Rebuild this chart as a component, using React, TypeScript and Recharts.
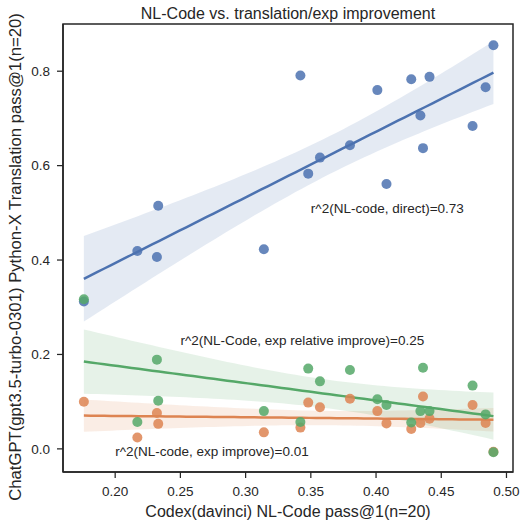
import React from 'react';
import { ComposedChart, XAxis, YAxis, Scatter, Line, Area, ReferenceArea } from 'recharts';

// Codex(davinci) NL-Code pass@1 per language
const codexNLCode = [0.176, 0.217, 0.232, 0.233, 0.314, 0.342, 0.348, 0.357, 0.380, 0.401, 0.408, 0.427, 0.434, 0.436, 0.441, 0.474, 0.484, 0.490];
// ChatGPT direct translation pass@1
const directPass = [0.312, 0.419, 0.4065, 0.515, 0.423, 0.791, 0.583, 0.617, 0.643, 0.760, 0.561, 0.783, 0.706, 0.637, 0.788, 0.684, 0.766, 0.855];
// explanation improvement (absolute)
const expImprove = [0.100, 0.024, 0.076, 0.053, 0.035, 0.045, 0.098, 0.088, 0.106, 0.080, 0.054, 0.042, 0.055, 0.111, 0.064, 0.093, 0.055, -0.006];
// explanation improvement (relative)
const expRelImprove = [0.317, 0.057, 0.189, 0.102, 0.080, 0.057, 0.170, 0.143, 0.167, 0.105, 0.093, 0.056, 0.080, 0.172, 0.080, 0.134, 0.073, -0.007];

const xTicks = [0.2, 0.25, 0.3, 0.35, 0.4, 0.45, 0.5];
const yTicks = [0.0, 0.2, 0.4, 0.6, 0.8];
const xDomain = [0.16, 0.505];
const yDomain = [-0.049, 0.9];

const title = 'NL-Code vs. translation/exp improvement';
const xLabel = 'Codex(davinci) NL-Code pass@1(n=20)';
const yLabel = 'ChatGPT(gpt3.5-turbo-0301) Python-X Translation pass@1(n=20)';

const annotations = [
  { x: 0.35, y: 0.5, text: 'r^2(NL-code, direct)=0.73' },
  { x: 0.25, y: 0.22, text: 'r^2(NL-Code, exp relative improve)=0.25' },
  { x: 0.2, y: -0.015, text: 'r^2(NL-code, exp improve)=0.01' },
];

const BLUE = '#4C72B0';
const ORANGE = '#DD8452';
const GREEN = '#55A868';
const INK = '#262626';
const FONT = '"Liberation Sans", Arial, sans-serif';

function fit(xs: number[], ys: number[]) {
  const n = xs.length;
  const mx = xs.reduce((a, b) => a + b, 0) / n;
  const my = ys.reduce((a, b) => a + b, 0) / n;
  let sxx = 0, sxy = 0;
  for (let i = 0; i < n; i++) {
    sxx += (xs[i] - mx) ** 2;
    sxy += (xs[i] - mx) * (ys[i] - my);
  }
  const b = sxy / sxx;
  const a = my - b * mx;
  let sse = 0;
  for (let i = 0; i < n; i++) sse += (ys[i] - (a + b * xs[i])) ** 2;
  const s = Math.sqrt(sse / (n - 2));
  const t = 2.0;
  return (x: number) => {
    const yh = a + b * x;
    const h = t * s * Math.sqrt(1 / n + (x - mx) ** 2 / sxx);
    return { yh, lo: yh - h, hi: yh + h };
  };
}

const fB = fit(codexNLCode, directPass);
const fO = fit(codexNLCode, expImprove);
const fG = fit(codexNLCode, expRelImprove);

const xMin = Math.min(...codexNLCode);
const xMax = Math.max(...codexNLCode);
const N = 60;
const fitData = Array.from({ length: N + 1 }, (_, i) => {
  const x = xMin + ((xMax - xMin) * i) / N;
  const b = fB(x), o = fO(x), g = fG(x);
  return {
    x,
    bFit: b.yh, bBand: [b.lo, b.hi],
    oFit: o.yh, oBand: [o.lo, o.hi],
    gFit: g.yh, gBand: [g.lo, g.hi],
  };
});

const pts = (ys: number[]) => codexNLCode.map((x, i) => ({ x, y: ys[i] }));
const bluePts = pts(directPass);
const orangePts = pts(expImprove);
const greenPts = pts(expRelImprove);

const dot = (color: string) => (p: any) => (
  <circle cx={p.cx} cy={p.cy} r={5} fill={color} fillOpacity={0.85} />
);

const textShape = (p: any) => (
  <text x={p.cx} y={p.cy} fontSize={13.5} fill={INK} fontFamily={FONT} textAnchor="start">
    {p.payload.text}
  </text>
);

const XLabel = (props: any) => {
  const vb = props.viewBox || { x: 63, y: 472, width: 450, height: 49 };
  return (
    <text x={vb.x + vb.width / 2} y={511.7} textAnchor="middle" dominantBaseline="central" fontSize={16} fill={INK} fontFamily={FONT}>
      {xLabel}
    </text>
  );
};

const YLabel = () => (
  <text x={15} y={257} textAnchor="middle" dominantBaseline="central" fontSize={16.7} fill={INK} fontFamily={FONT} transform="rotate(-90, 15, 257)">
    {yLabel}
  </text>
);

const TitleLabel = (props: any) => {
  const vb = props.viewBox || { x: 63, y: 24, width: 450, height: 448 };
  return (
    <text x={vb.x + vb.width / 2} y={13} textAnchor="middle" dominantBaseline="central" fontSize={16} fill={INK} fontFamily={FONT}>
      {title}
    </text>
  );
};

export default function App() {
  return (
    <div style={{ position: 'relative', width: 521, height: 521, fontFamily: FONT, overflow: 'hidden' }}>
      <style>{'html, body { margin: 0; padding: 0; overflow: hidden; }'}</style>
      <ComposedChart width={521} height={521} data={fitData} margin={{ top: 24, right: 8, left: 0, bottom: 0 }}>
        <XAxis
          type="number" dataKey="x" domain={xDomain} ticks={xTicks} allowDataOverflow interval={0}
          tickFormatter={(v: number) => v.toFixed(2)}
          height={49} tickSize={6} tickMargin={8}
          tick={{ fill: INK, fontSize: 13.5, fontFamily: FONT }}
          tickLine={{ stroke: INK, strokeWidth: 1.25 }}
          axisLine={{ stroke: INK, strokeWidth: 1.5 }}
          label={<XLabel />}
        />
        <YAxis
          type="number" domain={yDomain} ticks={yTicks} allowDataOverflow interval={0}
          tickFormatter={(v: number) => v.toFixed(1)}
          width={63} tickSize={6} tickMargin={7}
          tick={{ fill: INK, fontSize: 13.5, fontFamily: FONT }}
          tickLine={{ stroke: INK, strokeWidth: 1.25 }}
          axisLine={{ stroke: INK, strokeWidth: 1.5 }}
          label={<YLabel />}
        />
        <Area dataKey="bBand" stroke="none" fill={BLUE} fillOpacity={0.15} isAnimationActive={false} activeDot={false} />
        <Scatter data={bluePts} dataKey="y" shape={dot(BLUE)} isAnimationActive={false} />
        <Line dataKey="bFit" stroke={BLUE} strokeWidth={2.5} dot={false} activeDot={false} isAnimationActive={false} />
        <Area dataKey="oBand" stroke="none" fill={ORANGE} fillOpacity={0.15} isAnimationActive={false} activeDot={false} />
        <Scatter data={orangePts} dataKey="y" shape={dot(ORANGE)} isAnimationActive={false} />
        <Line dataKey="oFit" stroke={ORANGE} strokeWidth={2.5} dot={false} activeDot={false} isAnimationActive={false} />
        <Area dataKey="gBand" stroke="none" fill={GREEN} fillOpacity={0.15} isAnimationActive={false} activeDot={false} />
        <Scatter data={greenPts} dataKey="y" shape={dot(GREEN)} isAnimationActive={false} />
        <Line dataKey="gFit" stroke={GREEN} strokeWidth={2.5} dot={false} activeDot={false} isAnimationActive={false} />
        <Scatter data={annotations} dataKey="y" shape={textShape} isAnimationActive={false} />
        <ReferenceArea x1={xDomain[0]} x2={xDomain[1]} y1={yDomain[0]} y2={yDomain[1]} fill="none" stroke={INK} strokeWidth={1.5} ifOverflow="visible" label={<TitleLabel />} />
      </ComposedChart>
    </div>
  );
}
